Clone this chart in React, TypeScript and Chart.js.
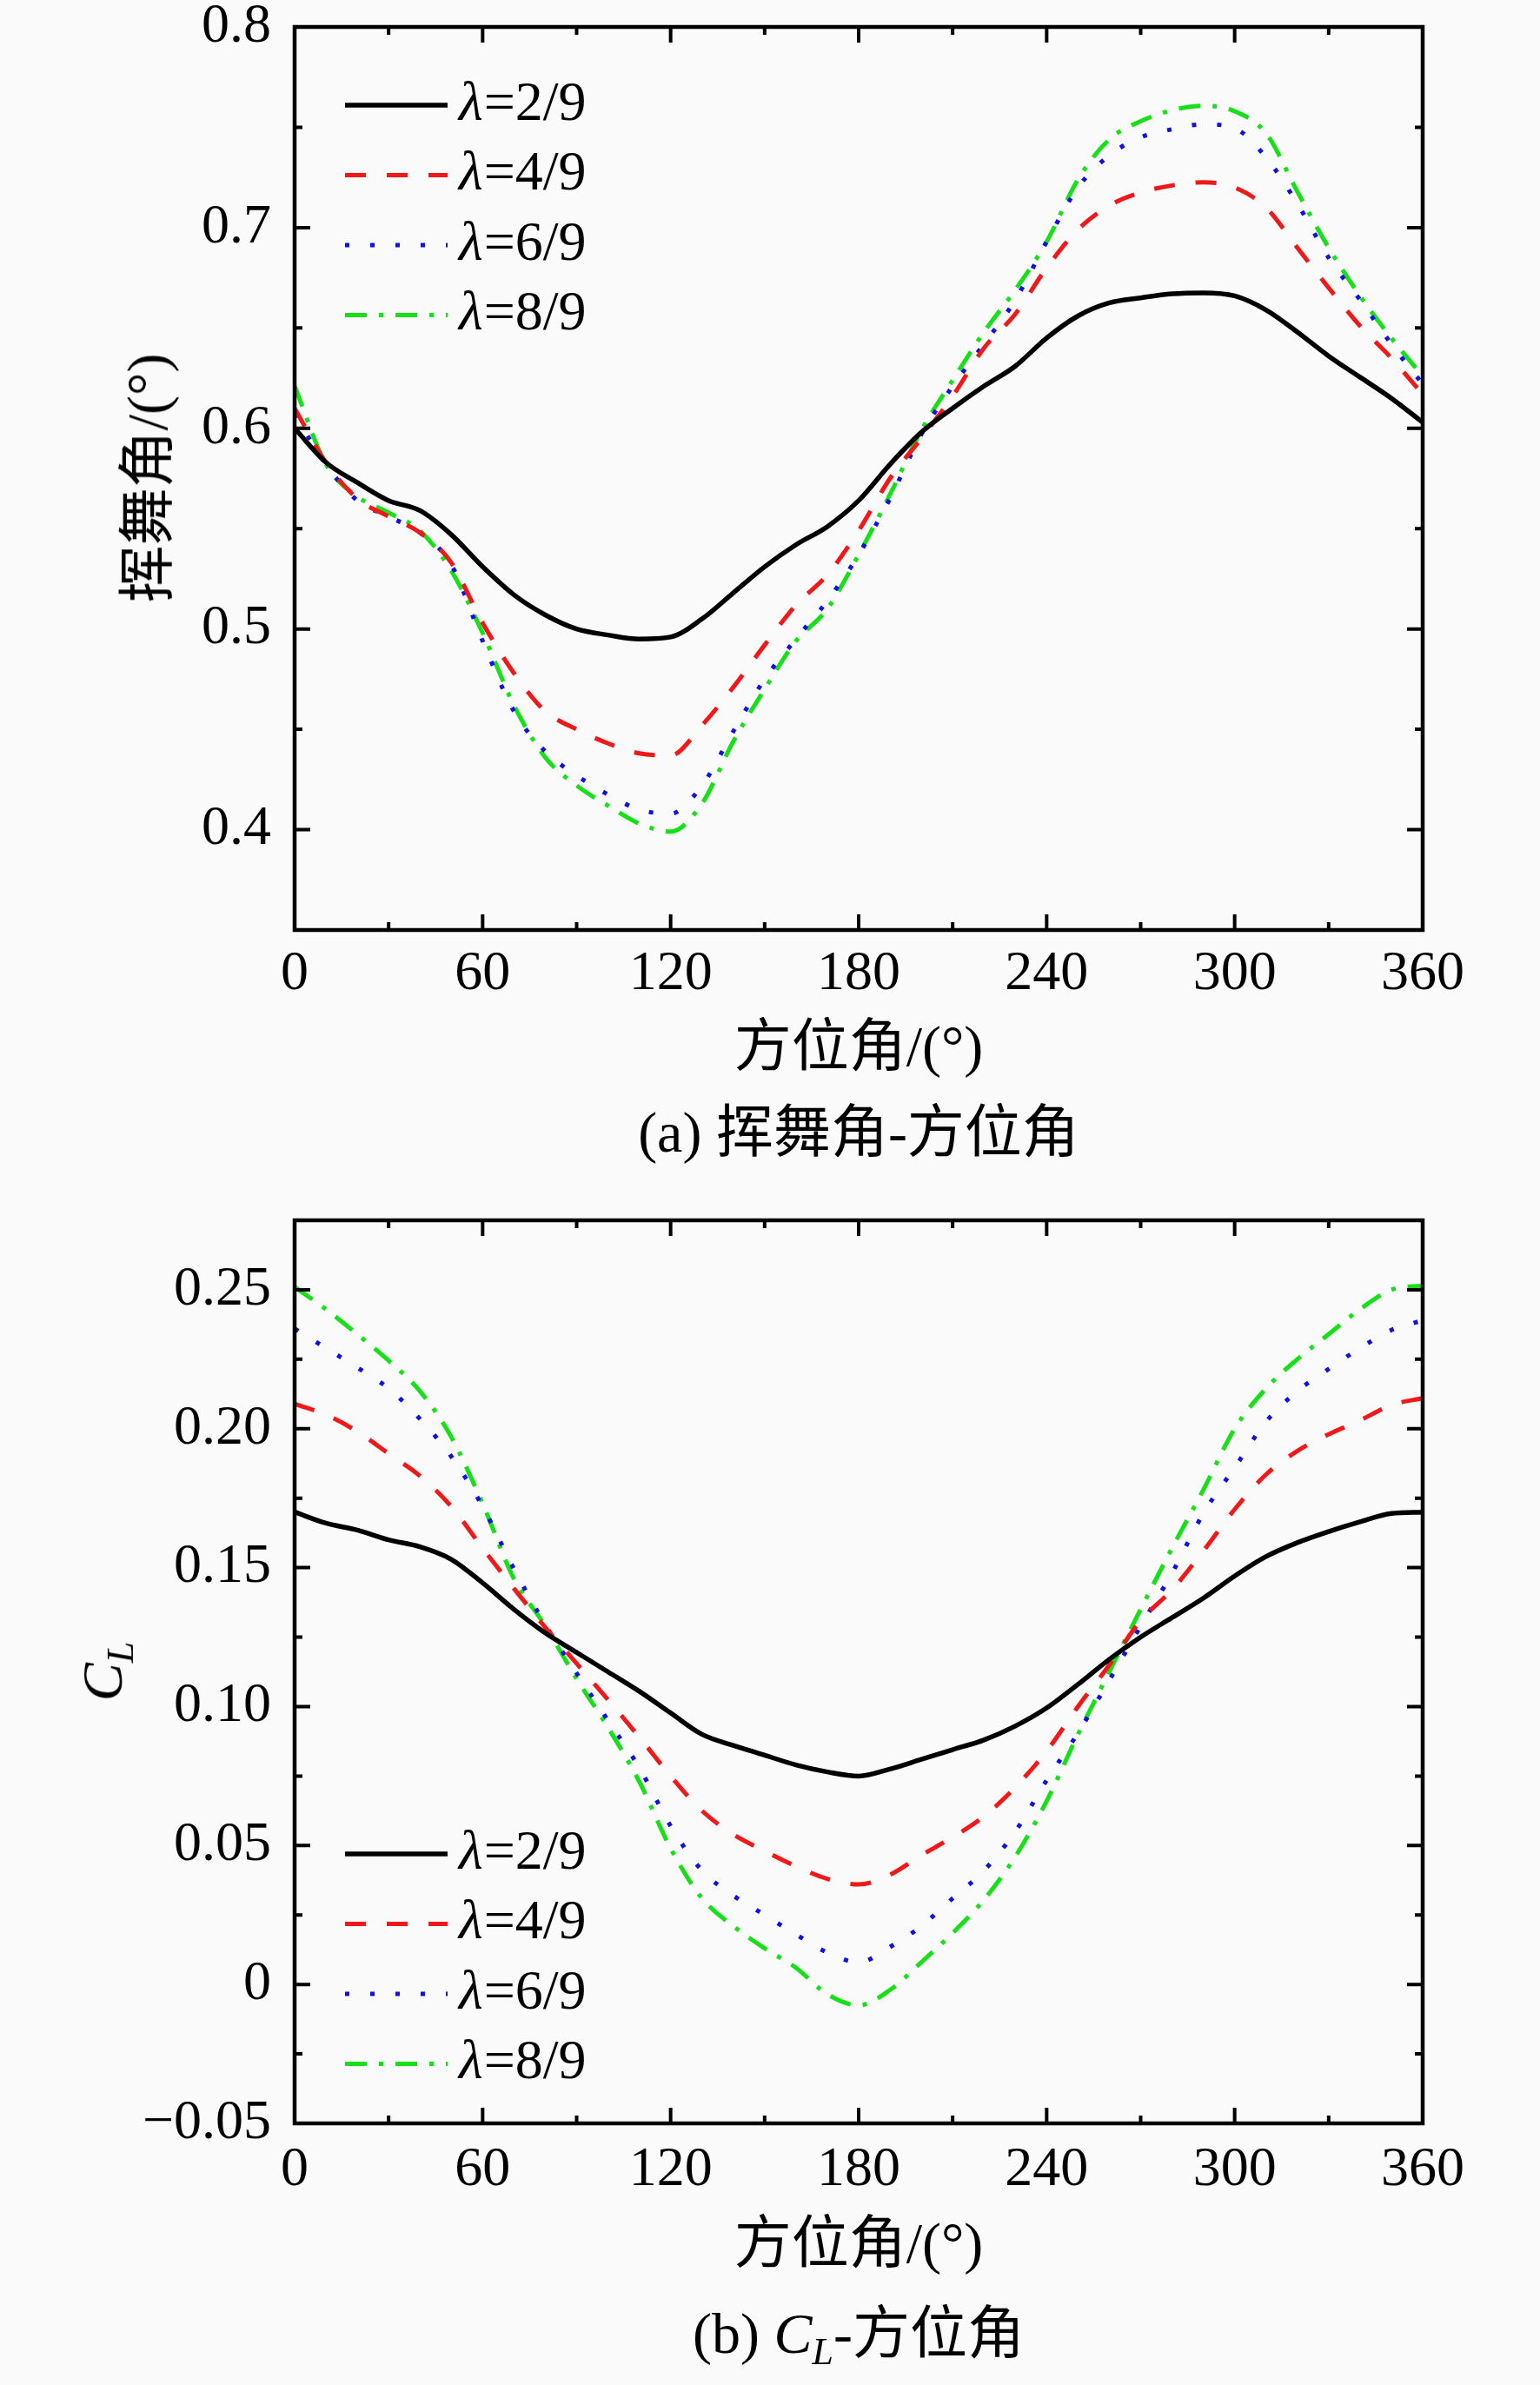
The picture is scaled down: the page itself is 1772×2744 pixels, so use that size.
import React, { useEffect, useRef } from "react";
import { Chart, registerables } from "chart.js";

Chart.register(...registerables);

// ---------- data ----------
const angles = [0, 10, 20, 30, 40, 50, 60, 70, 80, 90, 100, 110, 120, 130, 140, 150, 160, 170, 180,
  190, 200, 210, 220, 230, 240, 250, 260, 270, 280, 290, 300, 310, 320, 330, 340, 350, 360];

const seriesLabels = ["λ=2/9", "λ=4/9", "λ=6/9", "λ=8/9"];

// (a) flapping angle
const flap29 = [0.600, 0.583, 0.573, 0.564, 0.559, 0.547, 0.531, 0.517, 0.507, 0.500, 0.497, 0.495, 0.496,
  0.505, 0.518, 0.531, 0.542, 0.551, 0.564, 0.582, 0.598, 0.610, 0.621, 0.631, 0.645, 0.656, 0.6625,
  0.665, 0.667, 0.6675, 0.666, 0.659, 0.648, 0.636, 0.6255, 0.615, 0.603];
const flap49 = [0.610, 0.583, 0.565, 0.556, 0.548, 0.533, 0.503, 0.478, 0.459, 0.450, 0.443, 0.438, 0.437,
  0.452, 0.471, 0.492, 0.512, 0.527, 0.549, 0.575, 0.595, 0.616, 0.640, 0.657, 0.680, 0.699, 0.711,
  0.7175, 0.721, 0.7226, 0.720, 0.710, 0.690, 0.670, 0.651, 0.635, 0.617];
const flap69 = [0.607, 0.582, 0.564, 0.556, 0.548, 0.532, 0.494, 0.459, 0.439, 0.427, 0.4175, 0.410, 0.408,
  0.422, 0.449, 0.475, 0.495, 0.514, 0.537, 0.565, 0.597, 0.621, 0.642, 0.664, 0.693, 0.720, 0.736,
  0.745, 0.749, 0.7515, 0.7495, 0.735, 0.712, 0.685, 0.664, 0.642, 0.622];
const flap89 = [0.621, 0.582, 0.566, 0.558, 0.549, 0.529, 0.498, 0.462, 0.436, 0.422, 0.412, 0.403, 0.399,
  0.413, 0.444, 0.470, 0.494, 0.510, 0.537, 0.567, 0.599, 0.624, 0.648, 0.669, 0.693, 0.724, 0.744,
  0.753, 0.7585, 0.7607, 0.758, 0.747, 0.718, 0.690, 0.666, 0.645, 0.626];

// (b) lift coefficient
const cl29 = [0.170, 0.166, 0.1635, 0.160, 0.1575, 0.153, 0.1445, 0.135, 0.1265, 0.1195, 0.1125, 0.1055,
  0.0977, 0.090, 0.086, 0.0825, 0.079, 0.0765, 0.075, 0.0775, 0.081, 0.0845, 0.088, 0.093, 0.0995,
  0.108, 0.117, 0.125, 0.132, 0.139, 0.147, 0.154, 0.159, 0.163, 0.1665, 0.1695, 0.170];
const cl49 = [0.209, 0.205, 0.199, 0.191, 0.183, 0.172, 0.157, 0.1425, 0.1285, 0.1155, 0.1025, 0.089,
  0.075, 0.0625, 0.054, 0.048, 0.0425, 0.038, 0.036, 0.0395, 0.0465, 0.053, 0.0605, 0.071, 0.084,
  0.100, 0.115, 0.131, 0.142, 0.156, 0.171, 0.1835, 0.192, 0.198, 0.203, 0.2085, 0.211];
const cl69 = [0.236, 0.229, 0.222, 0.2145, 0.2035, 0.190, 0.172, 0.1495, 0.1295, 0.112, 0.095, 0.078,
  0.057, 0.041, 0.032, 0.025, 0.018, 0.0115, 0.008, 0.0135, 0.021, 0.031, 0.041, 0.055, 0.0735,
  0.0905, 0.1095, 0.129, 0.148, 0.1695, 0.186, 0.2025, 0.2135, 0.2215, 0.229, 0.2355, 0.239];
const cl89 = [0.251, 0.243, 0.234, 0.2245, 0.2135, 0.197, 0.173, 0.146, 0.129, 0.110, 0.0925, 0.073,
  0.049, 0.031, 0.021, 0.013, 0.006, -0.0035, -0.0075, -0.002, 0.008, 0.0185, 0.0305, 0.046, 0.066,
  0.090, 0.1125, 0.135, 0.157, 0.178, 0.200, 0.2145, 0.225, 0.234, 0.243, 0.250, 0.2515];

const xTicks = { min: 0, max: 360, step: 60 };
const flapRange = { min: 0.35, max: 0.8, step: 0.1 };
const clRange = { min: -0.05, max: 0.275, step: 0.05 };

// ---------- styles ----------
const FONT = "'Liberation Serif', 'Noto Sans CJK SC', serif";
const W = 1772;
const H = 1372;
const TITLE_SIZE = 66;
const LEGEND_SIZE = 64;
const lineStyles = [
  { color: "#000000", width: 5.5, dash: [] as number[] },
  { color: "#f01818", width: 5, dash: [24, 24] },
  { color: "#1010e0", width: 5, dash: [5, 24] },
  { color: "#18e018", width: 5, dash: [25, 14, 5, 14] },
];

function mids(vals: number[], min: number, max: number): number[] {
  const out: number[] = [];
  if (vals.length < 2) return out;
  const step = vals[1] - vals[0];
  const first = vals[0] - step / 2;
  if (first > min + 1e-9) out.push(first);
  for (let i = 0; i < vals.length - 1; i++) out.push((vals[i] + vals[i + 1]) / 2);
  const last = vals[vals.length - 1] + step / 2;
  if (last < max - 1e-9) out.push(last);
  return out;
}

const framePlugin = {
  id: "frameTicks",
  afterDatasetsDraw(chart: any) {
    const { ctx, chartArea: a, scales } = chart;
    const x = scales.x;
    const y = scales.y;
    ctx.save();
    ctx.strokeStyle = "#000";
    ctx.lineCap = "butt";
    const majX = x.ticks.map((t: any) => t.value);
    const majY = y.ticks.map((t: any) => t.value);
    const minX = mids(majX, x.min, x.max);
    const minY = mids(majY, y.min, y.max);
    ctx.lineWidth = 4;
    const drawX = (vals: number[], len: number) => {
      vals.forEach((v) => {
        const px = x.getPixelForValue(v);
        ctx.beginPath();
        ctx.moveTo(px, a.bottom);
        ctx.lineTo(px, a.bottom - len);
        ctx.moveTo(px, a.top);
        ctx.lineTo(px, a.top + len);
        ctx.stroke();
      });
    };
    const drawY = (vals: number[], len: number) => {
      vals.forEach((v) => {
        const py = y.getPixelForValue(v);
        ctx.beginPath();
        ctx.moveTo(a.left, py);
        ctx.lineTo(a.left + len, py);
        ctx.moveTo(a.right, py);
        ctx.lineTo(a.right - len, py);
        ctx.stroke();
      });
    };
    drawX(majX, 18);
    drawX(minX, 9);
    drawY(majY, 18);
    drawY(minY, 9);
    ctx.lineWidth = 4.5;
    ctx.strokeRect(a.left, a.top, a.right - a.left, a.bottom - a.top);
    ctx.restore();
  },
};

const legendPlugin = {
  id: "inLegend",
  afterDatasetsDraw(chart: any, _args: any, opts: any) {
    const { ctx, chartArea: a } = chart;
    chart.data.datasets.forEach((ds: any, i: number) => {
      const yy = a.top + opts.top + i * opts.dy;
      const x0 = a.left + opts.left;
      ctx.save();
      ctx.strokeStyle = ds.borderColor;
      ctx.lineWidth = ds.borderWidth;
      ctx.setLineDash(ds.borderDash || []);
      ctx.beginPath();
      ctx.moveTo(x0, yy);
      ctx.lineTo(x0 + opts.len, yy);
      ctx.stroke();
      ctx.setLineDash([]);
      ctx.fillStyle = "#000";
      ctx.textBaseline = "middle";
      ctx.textAlign = "left";
      const label: string = ds.label;
      const sym = label.slice(0, 1);
      const rest = label.slice(1);
      const tx = x0 + opts.len + opts.gap;
      ctx.font = `italic ${LEGEND_SIZE}px ${FONT}`;
      ctx.fillText(sym, tx, yy);
      const w = ctx.measureText(sym).width;
      ctx.font = `${LEGEND_SIZE}px ${FONT}`;
      ctx.fillText(rest, tx + w + 1, yy);
      ctx.restore();
    });
  },
};

function makeDatasets(series: number[][]) {
  return series.map((vals, i) => ({
    label: seriesLabels[i],
    data: angles.map((a, j) => ({ x: a, y: vals[j] })),
    borderColor: lineStyles[i].color,
    backgroundColor: lineStyles[i].color,
    borderWidth: lineStyles[i].width,
    borderDash: lineStyles[i].dash,
    borderCapStyle: "butt",
    pointRadius: 0,
    cubicInterpolationMode: "monotone",
    fill: false,
  }));
}

function formatFlap(v: number): string {
  return v.toFixed(1);
}

function formatCl(v: number): string {
  if (Math.abs(v) < 1e-9) return "0";
  if (v < 0) return "\u2212" + Math.abs(v).toFixed(2);
  return v.toFixed(2);
}

interface PanelProps {
  series: number[][];
  range: { min: number; max: number; step: number };
  padTop: number;
  xHeight: number;
  xLabelPad: number;
  xTitlePad: number;
  legendTop: number;
  tickFmt: (v: number) => string;
}

function Panel(p: PanelProps) {
  const ref = useRef<HTMLCanvasElement | null>(null);
  useEffect(() => {
    if (!ref.current) return;
    const chart = new Chart(ref.current, {
      type: "line",
      data: { datasets: makeDatasets(p.series) as any },
      plugins: [framePlugin, legendPlugin] as any,
      options: {
        animation: false,
        responsive: false,
        devicePixelRatio: 1,
        events: [],
        layout: { padding: { left: 0, right: W - 1637, top: p.padTop, bottom: 0 } },
        plugins: {
          legend: { display: false },
          tooltip: { enabled: false },
          inLegend: { left: 58, top: p.legendTop, dy: 80.5, len: 118, gap: 13 },
        } as any,
        scales: {
          x: {
            type: "linear",
            min: xTicks.min,
            max: xTicks.max,
            grid: { display: false, drawTicks: false },
            border: { display: false },
            ticks: {
              stepSize: xTicks.step,
              padding: p.xLabelPad,
              color: "#000",
              maxRotation: 0,
              autoSkip: false,
              font: { family: FONT, size: 64 },
            },
            title: {
              display: true,
              text: "方位角/(°)",
              color: "#000",
              font: { family: FONT, size: TITLE_SIZE },
              padding: { top: 0, bottom: p.xTitlePad },
            },
            afterFit: (s: any) => {
              s.height = p.xHeight;
              s.paddingLeft = 0;
              s.paddingRight = 0;
            },
          },
          y: {
            type: "linear",
            min: p.range.min,
            max: p.range.max,
            grid: { display: false, drawTicks: false },
            border: { display: false },
            ticks: {
              stepSize: p.range.step,
              includeBounds: false,
              padding: 27,
              color: "#000",
              font: { family: FONT, size: 64 },
              callback: (v: any) => p.tickFmt(Number(v)),
            },
            afterFit: (s: any) => {
              s.width = 339;
              s.paddingTop = 0;
              s.paddingBottom = 0;
            },
          },
        } as any,
      },
    });
    return () => chart.destroy();
  }, []);
  return <canvas ref={ref} width={W} height={H} style={{ width: W, height: H, display: "block" }} />;
}

const textBase: React.CSSProperties = {
  position: "absolute",
  fontFamily: FONT,
  fontSize: TITLE_SIZE,
  lineHeight: 1,
  color: "#000",
  whiteSpace: "nowrap",
  transform: "translate(-50%, -50%)",
};

export default function App() {
  return (
    <div style={{ position: "absolute", left: 0, top: 0, width: W, height: 2744, background: "#fafafa", overflow: "hidden" }}>
      <div style={{ position: "absolute", left: 0, top: 0, width: W, height: H }}>
        <Panel
          series={[flap29, flap49, flap69, flap89]}
          range={flapRange}
          padTop={31}
          xHeight={302}
          xLabelPad={13}
          xTitlePad={124}
          legendTop={90}
          tickFmt={formatFlap}
        />
        <div style={{ ...textBase, left: 170, top: 550, transform: "translate(-50%, -50%) rotate(-90deg)" }}>
          挥舞角/(°)
        </div>
        <div style={{ ...textBase, left: 988, top: 1303 }}>(a) 挥舞角-方位角</div>
      </div>
      <div style={{ position: "absolute", left: 0, top: H, width: W, height: H }}>
        <Panel
          series={[cl29, cl49, cl69, cl89]}
          range={clRange}
          padTop={32}
          xHeight={301}
          xLabelPad={16}
          xTitlePad={119}
          legendTop={729}
          tickFmt={formatCl}
        />
        <div style={{ ...textBase, left: 123, top: 551, transform: "translate(-50%, -50%) rotate(-90deg)" }}>
          <i>C</i>
          <sub style={{ fontSize: 44, verticalAlign: "-0.3em" }}><i>L</i></sub>
        </div>
        <div style={{ ...textBase, left: 988, top: 1318 }}>
          (b) <i>C</i>
          <sub style={{ fontSize: 44, verticalAlign: "-0.3em" }}><i>L</i></sub>-方位角
        </div>
      </div>
    </div>
  );
}
